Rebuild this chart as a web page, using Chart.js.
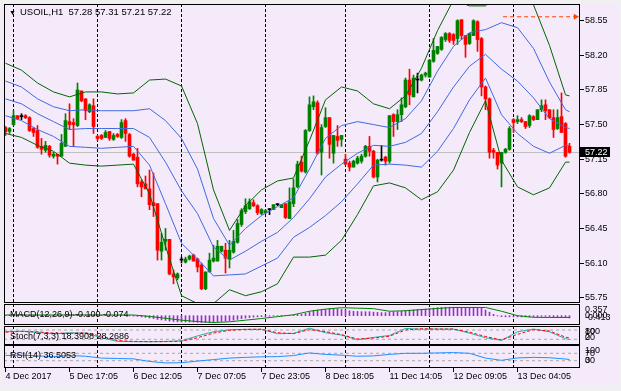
<!DOCTYPE html>
<html>
<head>
<meta charset="utf-8">
<title>USOIL,H1</title>
<script src="https://cdn.jsdelivr.net/npm/chart.js@4.4.1/dist/chart.umd.min.js"></script>
<style>
  html, body { margin: 0; padding: 0; background: #f0f0f0; overflow: hidden; }
  #win { position: absolute; left: 0; top: 0; width: 621px; height: 391px; }
  #pane { position: absolute; left: 2px; top: 3px; width: 617px; height: 383px; background: #f5eafa; }
  canvas { position: absolute; left: 0; }
  .txt { position: absolute; font-family: 'Liberation Sans', Arial, sans-serif; font-size: 9px; line-height: 10px; color: #000; white-space: pre; }
</style>
</head>
<body>
<div id="win">
  <div id="pane"></div>
  <canvas id="cMain" width="621" height="303" style="top:0px"></canvas>
  <canvas id="cMacd" width="621" height="21" style="top:304px"></canvas>
  <canvas id="cStoch" width="621" height="19" style="top:326px"></canvas>
  <canvas id="cRsi" width="621" height="46" style="top:345px"></canvas>
  <div class="txt" style="left:9px;top:8px;font-size:7px">&#9660;</div>
  <div class="txt" id="title" style="left:20px;top:7px;font-size:9.5px"></div>
  <div class="txt" id="macdName" style="left:10px;top:309px"></div>
  <div class="txt" id="stochName" style="left:10px;top:331px"></div>
  <div class="txt" id="rsiName" style="left:10px;top:350px"></div>
</div>
<script>
// USOIL H1 candles (bar 0 = 4 Dec 22:05)
const opens = [57.47,57.43,57.50,57.59,57.58,57.59,57.57,57.46,57.44,57.28,
  57.24,57.28,57.18,57.20,57.18,57.28,57.53,57.52,57.49,57.84,
  57.76,57.63,57.69,57.38,57.39,57.37,57.43,57.35,57.40,57.37,
  57.54,57.40,57.20,57.17,56.92,56.90,56.85,56.71,56.70,56.22,
  56.32,56.34,55.99,55.95,56.13,56.11,56.14,56.18,56.14,56.08,
  55.84,56.01,56.12,56.12,56.22,56.23,56.14,56.21,56.31,56.49,
  56.62,56.65,56.71,56.68,56.60,56.61,56.64,56.64,56.69,56.66,
  56.70,56.55,56.70,56.87,57.12,57.02,57.44,57.68,57.72,57.22,
  57.48,57.57,57.21,57.38,57.35,57.15,57.11,57.07,57.11,57.13,
  57.18,57.28,57.23,56.97,57.14,57.17,57.13,57.60,57.53,57.60,
  57.68,57.95,57.78,57.95,57.95,58.00,57.98,58.14,58.22,58.26,
  58.36,58.42,58.41,58.37,58.56,58.40,58.32,58.40,58.54,58.37,
  57.88,57.76,57.24,57.22,57.11,57.22,57.25,57.55,57.53,57.55,
  57.53,57.49,57.58,57.55,57.65,57.70,57.65,57.57,57.46,57.58,
  57.51,57.28];
const highs = [57.48,57.47,57.64,57.59,57.61,57.60,57.58,57.47,57.49,57.36,
  57.33,57.29,57.22,57.20,57.40,57.61,57.71,57.56,57.92,57.84,
  57.76,57.71,57.76,57.39,57.40,57.44,57.43,57.41,57.41,57.55,
  57.56,57.41,57.21,57.26,56.94,56.98,57.04,57.01,56.70,56.40,
  56.45,56.34,56.03,56.00,56.16,56.16,56.18,56.19,56.15,56.10,
  56.01,56.20,56.28,56.33,56.27,56.30,56.33,56.43,56.54,56.65,
  56.75,56.75,56.74,56.69,56.65,56.64,56.65,56.69,56.70,56.69,
  56.70,56.86,56.95,57.13,57.18,57.45,57.78,57.79,57.74,57.50,
  57.67,57.57,57.39,57.49,57.39,57.20,57.13,57.14,57.18,57.20,
  57.29,57.38,57.24,57.15,57.29,57.18,57.59,57.61,57.65,57.77,
  57.97,58.06,58.00,58.02,58.01,58.03,58.16,58.37,58.29,58.39,
  58.43,58.43,58.42,58.56,58.56,58.40,58.42,58.56,58.55,58.38,
  57.89,57.77,57.26,57.22,57.22,57.26,57.48,57.56,57.59,57.57,
  57.53,57.60,57.59,57.65,57.75,57.75,57.65,57.65,57.65,57.82,
  57.52,57.31];
const lows = [57.39,57.41,57.49,57.55,57.55,57.56,57.43,57.38,57.26,57.20,
  57.22,57.17,57.16,57.10,57.18,57.28,57.45,57.28,57.48,57.73,
  57.55,57.62,57.41,57.34,57.35,57.37,57.34,57.34,57.37,57.36,
  57.33,57.17,57.14,56.87,56.77,56.85,56.64,56.57,56.13,56.13,
  56.23,55.98,55.89,55.93,56.10,56.10,56.13,56.12,56.01,55.83,
  55.83,56.01,56.11,56.12,56.21,56.00,56.05,56.20,56.30,56.47,
  56.60,56.64,56.67,56.59,56.59,56.60,56.59,56.64,56.68,56.66,
  56.55,56.55,56.67,56.86,57.02,57.01,57.43,57.65,57.20,56.99,
  57.47,57.16,57.11,57.28,57.28,57.09,57.03,57.07,57.10,57.11,
  57.17,57.18,56.96,56.92,57.13,57.09,57.11,57.38,57.45,57.53,
  57.67,57.70,57.78,57.82,57.94,57.98,57.98,58.13,58.21,58.25,
  58.34,58.33,58.31,58.31,58.36,58.18,58.31,58.40,58.24,57.79,
  57.65,57.16,57.16,57.05,56.87,57.21,57.24,57.42,57.51,57.52,
  57.46,57.47,57.54,57.55,57.63,57.55,57.56,57.37,57.45,57.42,
  57.17,57.21];
const closes = [57.43,57.46,57.59,57.56,57.58,57.57,57.44,57.42,57.27,57.25,
  57.29,57.19,57.20,57.18,57.31,57.54,57.50,57.50,57.85,57.74,
  57.64,57.70,57.48,57.36,57.36,57.42,57.36,57.39,57.38,57.52,
  57.41,57.18,57.14,56.90,56.87,56.85,56.69,56.68,56.23,56.31,
  56.34,55.99,55.96,55.99,56.13,56.14,56.17,56.12,56.06,55.84,
  56.01,56.13,56.15,56.27,56.27,56.15,56.23,56.32,56.50,56.63,
  56.68,56.72,56.68,56.61,56.64,56.63,56.64,56.69,56.69,56.69,
  56.56,56.72,56.86,57.10,57.03,57.44,57.70,57.73,57.21,57.47,
  57.57,57.30,57.39,57.34,57.39,57.10,57.07,57.13,57.16,57.18,
  57.28,57.23,56.97,57.14,57.14,57.13,57.59,57.53,57.60,57.70,
  57.95,57.80,57.97,57.95,58.00,58.02,58.15,58.25,58.29,58.38,
  58.42,58.35,58.35,58.55,58.40,58.31,58.42,58.55,58.36,57.88,
  57.76,57.22,57.22,57.09,57.22,57.25,57.46,57.52,57.55,57.53,
  57.48,57.59,57.55,57.65,57.69,57.64,57.57,57.45,57.57,57.42,
  57.18,57.22];

// Bollinger lines, read every 4 bars
const bandBars = [0,4,8,12,16,20,24,28,32,36,40,44,48,52,56,60,64,68,72,76,
  80,84,88,92,96,100,104,108,112,116,120,124,128,132,136,140,141];
const bbUpper2 = [58.12,58.05,57.92,57.83,57.78,57.83,57.83,57.81,57.82,57.95,57.96,57.89,57.51,56.84,56.43,56.68,56.84,56.93,56.96,57.34,
  57.75,57.88,57.84,57.71,57.66,57.79,58.07,58.45,58.76,58.70,58.70,58.85,58.85,58.71,58.30,57.80,57.79];
const bbUpper1 = [57.94,57.88,57.76,57.68,57.64,57.65,57.64,57.64,57.64,57.66,57.54,57.36,57.05,56.55,56.28,56.45,56.58,56.67,56.76,57.05,
  57.36,57.49,57.53,57.50,57.47,57.56,57.74,58.04,58.29,58.43,58.46,58.53,58.48,58.27,57.93,57.65,57.63];
const bbMid = [57.76,57.71,57.61,57.53,57.45,57.46,57.46,57.46,57.46,57.37,57.12,56.83,56.60,56.26,56.13,56.22,56.32,56.41,56.56,56.75,
  56.97,57.10,57.21,57.29,57.28,57.32,57.41,57.63,57.88,58.09,58.21,58.06,57.94,57.77,57.56,57.47,57.46];
const bbLower1 = [57.59,57.54,57.45,57.38,57.28,57.27,57.26,57.27,57.28,57.09,56.70,56.30,56.14,55.97,55.98,55.99,56.07,56.15,56.36,56.46,
  56.58,56.72,56.90,57.09,57.10,57.09,57.07,57.23,57.46,57.75,57.97,57.60,57.41,57.28,57.21,57.29,57.29];
const bbLower2 = [57.41,57.37,57.29,57.23,57.11,57.09,57.08,57.09,57.10,56.80,56.27,55.77,55.69,55.69,55.83,55.77,55.81,55.89,56.16,56.16,
  56.18,56.33,56.59,56.88,56.91,56.86,56.74,56.82,57.04,57.42,57.74,57.14,56.87,56.79,56.86,57.12,57.12];

// MACD(12,26,9): histogram per bar, signal every 4 bars
const macdHist = [0.02,0.03,0.02,0.04,0.03,0.03,0.04,0.03,0.02,0.02,
  0.03,0.02,0.01,0.01,0.02,0.04,0.05,0.05,0.06,0.05,
  0.05,0.05,0.04,0.03,0.02,0.02,0.01,0.01,0.01,0.01,
  0.0,-0.01,-0.02,-0.03,-0.05,-0.07,-0.1,-0.12,-0.16,-0.18,
  -0.2,-0.23,-0.25,-0.26,-0.27,-0.27,-0.27,-0.27,-0.28,-0.29,
  -0.29,-0.28,-0.27,-0.25,-0.24,-0.23,-0.21,-0.19,-0.16,-0.13,
  -0.1,-0.08,-0.06,-0.05,-0.04,-0.03,-0.02,-0.01,0.0,0.01,
  0.0,0.01,0.03,0.05,0.06,0.1,0.16,0.22,0.24,0.24,
  0.27,0.3,0.3,0.29,0.27,0.24,0.21,0.19,0.18,0.17,
  0.17,0.17,0.15,0.14,0.13,0.13,0.15,0.16,0.17,0.19,
  0.22,0.24,0.25,0.26,0.27,0.28,0.3,0.32,0.34,0.35,
  0.36,0.36,0.36,0.36,0.36,0.35,0.35,0.36,0.35,0.32,
  0.24,0.15,0.06,-0.01,-0.04,-0.05,-0.05,-0.05,-0.05,-0.05,
  -0.05,-0.05,-0.04,-0.04,-0.03,-0.03,-0.04,-0.05,-0.05,-0.06,
  -0.08,-0.1];
const macdSignal = [0.03,0.03,0.03,0.03,0.03,0.03,0.03,0.03,0.03,-0.03,-0.11,-0.19,-0.25,-0.29,-0.26,-0.19,-0.12,-0.04,0.04,0.19,
  0.28,0.34,0.32,0.3,0.19,0.21,0.26,0.31,0.35,0.35,0.35,0.19,0.0,-0.07,-0.075,-0.074,-0.074];
const macdTicks = [0.357, 0.000, -0.413];

// Stochastic(7,3,3) and RSI(14), every 4 bars
const stochMain = [70,72,65,55,62,60,30,6,5,4,6,10,42,69,82,84,84,56,58,92,
  62,47,17,32,45,90,85,86,86,60,30,13,68,86,68,24,18.3908];
const stochSignal = [66,71,68,60,58,62,40,12,6,5,5,8,30,60,78,84,85,62,57,82,
  70,50,22,28,40,80,88,86,86,66,38,16,52,82,74,34,28.2686];
const stochLevels = [20, 80];
const stochTicks = [100, 80, 20, 0];
const rsi = [58,60,56,52,58,54,44,42,40,26,18,19,28,36,44,48,51,52,58,72,
  64,60,54,56,64,70,70,72,74,70,44,32,45,48,46,39,36.5053];
const rsiLevels = [30, 70];
const rsiTicks = [100, 70, 30, 0];

// axes
const priceTicks = [58.55, 58.20, 57.85, 57.50, 57.15, 56.80, 56.45, 56.10, 55.75];
const sepBars = [2, 23, 44, 65, 85, 106, 127];
const labelBars = [0, 16, 32, 48, 64, 80, 96, 112, 128];
const timeLabels = ['4 Dec 2017', '5 Dec 17:05', '6 Dec 12:05', '7 Dec 07:05', '7 Dec 23:05',
  '8 Dec 18:05', '11 Dec 14:05', '12 Dec 09:05', '13 Dec 04:05'];
const highLineBars = [124.4, 142.5];
const highLineLevel = 58.59;

const FONT = "'Liberation Sans', Arial, sans-serif";
Chart.defaults.font.family = FONT;
Chart.defaults.font.size = 9;
Chart.defaults.color = '#000';
Chart.defaults.animation = false;
Chart.defaults.plugins.legend.display = false;
Chart.defaults.plugins.tooltip.enabled = false;

const xMin = -0.375, xMax = 143.625;
const bars = opens.map((_, i) => i);
const last = closes.length - 1;
const candleColor = i => closes[i] > opens[i] ? '#008000' : (closes[i] < opens[i] ? '#ff0000' : '#000000');
const pts = (xs, ys) => xs.map((x, k) => ({ x: x, y: ys[k] }));
const lineDs = (xs, ys, color, extra) => Object.assign({
  type: 'line', data: pts(xs, ys), borderColor: color, borderWidth: 1,
  pointRadius: 0, fill: false, tension: 0, order: 1
}, extra || {});

document.getElementById('title').textContent = 'USOIL,H1  ' +
  [opens[last], highs[last], lows[last], closes[last]].map(v => v.toFixed(2)).join(' ');
document.getElementById('macdName').textContent = 'MACD(12,26,9) ' +
  macdHist[macdHist.length - 1].toFixed(3) + ' ' + macdSignal[macdSignal.length - 1].toFixed(3);
document.getElementById('stochName').textContent = 'Stoch(7,3,3) ' +
  stochMain[stochMain.length - 1].toFixed(4) + ' ' + stochSignal[stochSignal.length - 1].toFixed(4);
document.getElementById('rsiName').textContent = 'RSI(14) ' + rsi[rsi.length - 1].toFixed(4);

// black frame around each panel
const frame = {
  id: 'frame',
  afterDraw(chart) {
    const a = chart.chartArea, ctx = chart.ctx;
    ctx.save();
    ctx.strokeStyle = '#000';
    ctx.lineWidth = 1;
    ctx.strokeRect(a.left + 0.5, a.top + 0.5, a.right - a.left - 1, a.bottom - a.top - 1);
    ctx.restore();
  }
};

// dashed day separators
const separators = {
  id: 'separators',
  beforeDatasetsDraw(chart) {
    const a = chart.chartArea, ctx = chart.ctx, xs = chart.scales.x;
    ctx.save();
    ctx.strokeStyle = '#000';
    ctx.lineWidth = 1;
    ctx.setLineDash([3, 2]);
    sepBars.forEach(b => {
      const x = Math.floor(xs.getPixelForValue(b)) + 0.5;
      ctx.beginPath();
      ctx.moveTo(x, a.top);
      ctx.lineTo(x, a.bottom);
      ctx.stroke();
    });
    ctx.restore();
  }
};

// current bid line and its label
const priceLine = {
  id: 'priceLine',
  beforeDatasetsDraw(chart) {
    const a = chart.chartArea, ctx = chart.ctx;
    const y = Math.round(chart.scales.y.getPixelForValue(closes[last])) + 0.5;
    ctx.save();
    ctx.strokeStyle = '#c0c0c0';
    ctx.lineWidth = 1;
    ctx.beginPath();
    ctx.moveTo(a.left, y);
    ctx.lineTo(a.right, y);
    ctx.stroke();
    ctx.restore();
  },
  afterDraw(chart) {
    const a = chart.chartArea, ctx = chart.ctx;
    const y = Math.round(chart.scales.y.getPixelForValue(closes[last]));
    ctx.save();
    ctx.fillStyle = '#000';
    ctx.fillRect(a.right, y - 5, 30, 10);
    ctx.fillStyle = '#fff';
    ctx.font = '9px ' + FONT;
    ctx.textBaseline = 'middle';
    ctx.fillText(closes[last].toFixed(2), a.right + 5, y + 0.5);
    ctx.restore();
  }
};

// value labels on the right of the indicator windows (squeezed into the window)
function sideLabels(values, texts) {
  return {
    id: 'sideLabels',
    afterDraw(chart) {
      const a = chart.chartArea, ctx = chart.ctx, ys = chart.scales.y;
      ctx.save();
      ctx.fillStyle = '#000';
      ctx.font = '9px ' + FONT;
      ctx.textBaseline = 'middle';
      values.forEach((v, k) => {
        const y = Math.max(a.top + 6, Math.min(a.bottom - 7, ys.getPixelForValue(v)));
        ctx.fillText(texts[k], a.right + 5, y);
      });
      ctx.restore();
    }
  };
}

function subOptions(yMin, yMax) {
  return {
    responsive: false,
    devicePixelRatio: 1,
    layout: { padding: { left: 4, right: 41, top: 0, bottom: 0 }, autoPadding: false },
    scales: {
      x: { type: 'linear', min: xMin, max: xMax, display: false, offset: false },
      y: { min: yMin, max: yMax, display: false }
    }
  };
}

const levelDs = v => lineDs([xMin, xMax], [v, v], '#a8a8a8', { borderDash: [3, 3], order: 3 });

// main price window
new Chart(document.getElementById('cMain'), {
  type: 'bar',
  data: {
    datasets: [
      { data: bars.map(i => ({ x: i, y: [lows[i], highs[i]] })), backgroundColor: bars.map(candleColor),
        barThickness: 1, grouped: false, order: 3 },
      { data: bars.map(i => ({ x: i, y: [opens[i], closes[i]] })), backgroundColor: bars.map(candleColor),
        barThickness: 3, minBarLength: 1, grouped: false, order: 2 },
      lineDs(bandBars, bbUpper2, '#006400'),
      lineDs(bandBars, bbUpper1, '#4169e1'),
      lineDs(bandBars, bbMid, '#4169e1'),
      lineDs(bandBars, bbLower1, '#4169e1'),
      lineDs(bandBars, bbLower2, '#006400'),
      lineDs(highLineBars, highLineBars.map(() => highLineLevel), '#ff4500', {
        borderDash: [4, 3], pointRadius: [0, 3.5], pointStyle: 'triangle', rotation: 90,
        pointBackgroundColor: '#ff4500', pointBorderColor: '#ff4500', pointBorderWidth: 0, order: 0 })
    ]
  },
  options: {
    responsive: false,
    devicePixelRatio: 1,
    layout: { padding: { left: 4, top: 4, right: 0, bottom: 0 }, autoPadding: false },
    scales: {
      x: { type: 'linear', min: xMin, max: xMax, display: false, offset: false },
      y: {
        position: 'right', min: 55.696, max: 58.719,
        afterBuildTicks: s => { s.ticks = priceTicks.map(v => ({ value: v })); },
        afterFit: s => { s.width = 41; s.paddingTop = 0; s.paddingBottom = 0; },
        grid: { drawOnChartArea: false, drawTicks: true, tickLength: 4, color: '#000' },
        border: { display: false },
        ticks: { padding: 1, autoSkip: false, color: '#000', callback: v => v.toFixed(2) }
      }
    }
  },
  plugins: [separators, priceLine, frame]
});

// MACD window
new Chart(document.getElementById('cMacd'), {
  type: 'bar',
  data: {
    datasets: [
      { data: bars.map(i => ({ x: i, y: macdHist[i] })), backgroundColor: '#9932cc',
        barThickness: 1, grouped: false, order: 2 },
      lineDs(bandBars, macdSignal, '#008000')
    ]
  },
  options: subOptions(-0.396, 0.498),
  plugins: [separators, frame, sideLabels(macdTicks, macdTicks.map(v => v.toFixed(3)))]
});

// Stochastic window
new Chart(document.getElementById('cStoch'), {
  type: 'line',
  data: {
    datasets: [
      levelDs(stochLevels[0]),
      levelDs(stochLevels[1]),
      lineDs(bandBars, stochMain, '#20b2aa', { order: 2 }),
      lineDs(bandBars, stochSignal, '#ff0000', { borderDash: [3, 2], order: 1 })
    ]
  },
  options: subOptions(-16.8, 105.8),
  plugins: [separators, frame, sideLabels(stochTicks, stochTicks.map(String))]
});

// RSI window with the time axis
const rsiOpts = subOptions(-9.5, 114.9);
rsiOpts.scales.x = {
  type: 'linear', min: xMin, max: xMax, position: 'bottom', offset: false,
  afterBuildTicks: s => { s.ticks = labelBars.map(v => ({ value: v })); },
  afterFit: s => { s.height = 23; s.paddingLeft = 0; s.paddingRight = 0; },
  grid: { drawOnChartArea: false, drawTicks: true, tickLength: 4, color: '#000' },
  border: { display: false },
  ticks: { align: 'start', autoSkip: false, maxRotation: 0, padding: 0, color: '#000',
    font: { size: 9, lineHeight: 1 }, callback: v => timeLabels[labelBars.indexOf(v)] }
};
new Chart(document.getElementById('cRsi'), {
  type: 'line',
  data: {
    datasets: [
      levelDs(rsiLevels[0]),
      levelDs(rsiLevels[1]),
      lineDs(bandBars, rsi, '#1e90ff')
    ]
  },
  options: rsiOpts,
  plugins: [separators, frame, sideLabels(rsiTicks, rsiTicks.map(String))]
});
</script>
</body>
</html>
